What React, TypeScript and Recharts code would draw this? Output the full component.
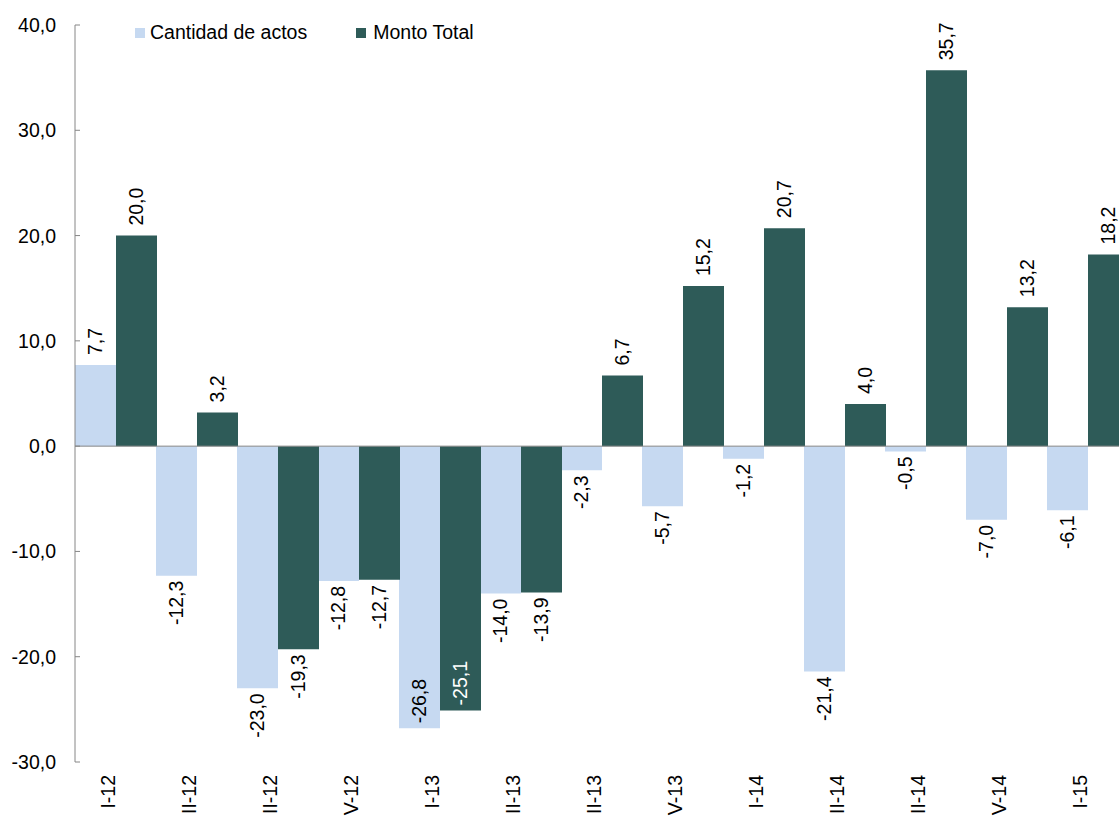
import React from "react";
import { BarChart, Bar, XAxis, YAxis, ReferenceLine, LabelList, Legend } from "recharts";

const categories = ["I-12", "II-12", "III-12", "IV-12", "I-13", "II-13", "III-13", "IV-13", "I-14", "II-14", "III-14", "IV-14", "I-15"];
const cantidadActos = [7.7, -12.3, -23.0, -12.8, -26.8, -14.0, -2.3, -5.7, -1.2, -21.4, -0.5, -7.0, -6.1];
const montoTotal = [20.0, 3.2, -19.3, -12.7, -25.1, -13.9, 6.7, 15.2, 20.7, 4.0, 35.7, 13.2, 18.2];
const yTicks = [-30, -20, -10, 0, 10, 20, 30, 40];

const data = categories.map((periodo, i) => ({
  periodo,
  cantidad: cantidadActos[i],
  monto: montoTotal[i],
}));

const LIGHT = "#C6D9F1";
const DARK = "#2E5B58";
const AXIS = "#868686";
const FONT = "'Liberation Sans', Arial, sans-serif";
const FS = 19.5;
const AXIS_X = 75;

const fmt = (v: number) => v.toFixed(1).replace(".", ",");

// labels go outside the bar end, unless they would run out of the plot
const makeLabel = (insideColor: string) => (props: any) => {
  const { x, y, width, height, value } = props;
  const v = Number(value);
  const top = Math.min(y, y + height);
  const bottom = Math.max(y, y + height);
  const lx = x + width / 2 + 7;
  let ly: number;
  let anchor: "start" | "end";
  let fill = "#000";
  if (v >= 0) {
    ly = top - 10;
    anchor = "start";
  } else if (v < -24) {
    ly = bottom - 5;
    anchor = "start";
    fill = insideColor;
  } else {
    ly = bottom + 5;
    anchor = "end";
  }
  return (
    <text
      x={lx}
      y={ly}
      transform={`rotate(-90, ${lx}, ${ly})`}
      textAnchor={anchor}
      fill={fill}
      fontSize={FS}
      fontFamily={FONT}
    >
      {fmt(v)}
    </text>
  );
};

const YTick = ({ y, payload }: any) => (
  <g>
    <line x1={AXIS_X} x2={AXIS_X + 5} y1={y} y2={y} stroke={AXIS} />
    <text x={56} y={y} dy={7} textAnchor="end" fill="#000" fontSize={FS} fontFamily={FONT}>
      {fmt(payload.value)}
    </text>
  </g>
);

const XTick = ({ x, payload }: any) => {
  const tx = x - 1;
  const ty = 775;
  return (
    <text
      x={tx}
      y={ty}
      transform={`rotate(-90, ${tx}, ${ty})`}
      textAnchor="end"
      fill="#000"
      fontSize={FS}
      fontFamily={FONT}
    >
      {payload.value}
    </text>
  );
};

const LegendBox = () => (
  <div style={{ display: "flex", alignItems: "center", fontFamily: FONT, fontSize: FS, color: "#000" }}>
    <span style={{ width: 10, height: 10, background: LIGHT, marginRight: 5 }} />
    <span style={{ marginRight: 49 }}>Cantidad de actos</span>
    <span style={{ width: 10, height: 10, background: DARK, marginRight: 7 }} />
    <span>Monto Total</span>
  </div>
);

export default function App() {
  return (
    <div style={{ position: "absolute", left: 0, top: 0, width: 1119, height: 816, overflow: "hidden", background: "#fff" }}>
      <BarChart
        width={1130}
        height={816}
        data={data}
        margin={{ top: 25, right: 2, left: 0, bottom: 0 }}
        barCategoryGap={0}
        barGap={0}
      >
        <XAxis dataKey="periodo" axisLine={false} tickLine={false} interval={0} height={54} tick={<XTick />} />
        <YAxis
          width={75}
          domain={[-30, 40]}
          ticks={yTicks}
          interval={0}
          axisLine={{ stroke: AXIS }}
          tickLine={false}
          tick={<YTick />}
        />
        <Legend
          verticalAlign="middle"
          align="center"
          layout="horizontal"
          wrapperStyle={{ position: "absolute", top: 21, left: 135, width: 420, height: 26 }}
          content={<LegendBox />}
        />
        <Bar dataKey="cantidad" name="Cantidad de actos" fill={LIGHT} isAnimationActive={false}>
          <LabelList dataKey="cantidad" content={makeLabel("#000")} />
        </Bar>
        <Bar dataKey="monto" name="Monto Total" fill={DARK} isAnimationActive={false}>
          <LabelList dataKey="monto" content={makeLabel("#fff")} />
        </Bar>
        <ReferenceLine y={0} stroke={AXIS} />
      </BarChart>
    </div>
  );
}
